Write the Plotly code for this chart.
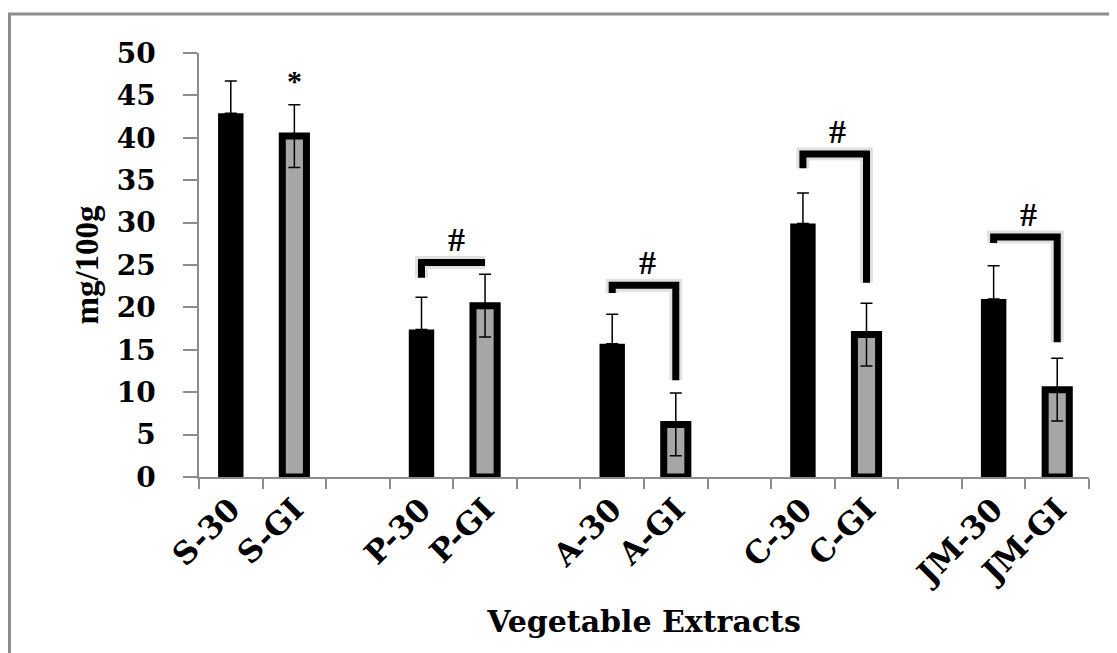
import plotly.graph_objects as go

# ---- data ----
categories = ["S-30", "S-GI", " ", "P-30", "P-GI", "  ", "A-30", "A-GI", "   ",
              "C-30", "C-GI", "    ", "JM-30", "JM-GI"]
cat30 = ["S-30", "P-30", "A-30", "C-30", "JM-30"]
val30 = [42.9, 17.4, 15.7, 29.9, 21.0]
err30 = [3.8, 3.8, 3.5, 3.6, 3.9]
catGI = ["S-GI", "P-GI", "A-GI", "C-GI", "JM-GI"]
valGI = [40.2, 20.2, 6.2, 16.8, 10.3]
errGI = [3.7, 3.7, 3.7, 3.7, 3.7]

# significance brackets: (left category, right category, top y, left leg end, right leg end)
br_left = ["P-30", "A-30", "C-30", "JM-30"]
br_right = ["P-GI", "A-GI", "C-GI", "JM-GI"]
br_top = [25.3, 22.6, 38.1, 28.3]
br_left_end = [23.5, 21.7, 36.4, 27.6]
br_right_end = [25.3, 11.4, 22.9, 15.9]
star_cat = "S-GI"
star_y = 46.8

SERIF = "DejaVu Serif"
TNR = "Liberation Serif"

fig = go.Figure()
fig.add_trace(go.Bar(
    x=cat30, y=val30, width=0.40,
    marker=dict(color="black", line=dict(color="black", width=0)),
    error_y=dict(type="data", array=err30, arrayminus=[0]*len(err30), symmetric=False,
                 color="black", thickness=1.5, width=6),
    showlegend=False,
))
fig.add_trace(go.Bar(
    x=catGI, y=valGI, width=0.38,
    marker=dict(color="#a6a6a6", line=dict(color="black", width=7)),
    error_y=dict(type="data", array=errGI, color="black", thickness=1.5, width=6),
    showlegend=False,
))

idx = {c: i for i, c in enumerate(categories)}
shapes = []
annotations = []
for l, r, t, le, re in zip(br_left, br_right, br_top, br_left_end, br_right_end):
    xl, xr = idx[l], idx[r]
    path = f"M {xl},{le} L {xl},{t} L {xr},{t} L {xr},{re}"
    # soft shadow
    shapes.append(dict(type="path", path=path, xref="x", yref="y",
                       line=dict(color="rgba(0,0,0,0.12)", width=13)))
    shapes.append(dict(type="path", path=path, xref="x", yref="y",
                       line=dict(color="black", width=7)))
    annotations.append(dict(x=(xl + xr) / 2 + 0.05, y=t, xref="x", yref="y", text="#",
                            showarrow=False, yanchor="bottom", yshift=2,
                            font=dict(family=TNR, size=34, color="black", weight="bold")))
annotations.append(dict(x=idx[star_cat], y=star_y, xref="x", yref="y", text="*",
                        showarrow=False, yanchor="middle",
                        font=dict(family=TNR, size=30, color="black", weight="bold")))

# outer border (page has an 8px body margin, figure starts at 8,8)
shapes.append(dict(type="rect", xref="paper", yref="paper",
                   x0=-0.2130, x1=1.05, y0=-0.45, y1=1.092,
                   line=dict(color="#8c8c8c", width=3), layer="below"))

fig.update_layout(
    width=1109, height=645,
    margin=dict(l=191, r=28, t=45, b=176, autoexpand=False),
    paper_bgcolor="white", plot_bgcolor="white",
    barmode="overlay",
    shapes=shapes, annotations=annotations,
    xaxis=dict(
        type="category", categoryorder="array", categoryarray=categories,
        range=[-0.5, len(categories) - 0.5], automargin=False,
        tickson="boundaries", ticks="outside", ticklen=10, tickcolor="#8c8c8c", tickwidth=1.5,
        showline=True, linecolor="#8c8c8c", linewidth=1.5,
        tickangle=-45,
        tickfont=dict(family=SERIF, size=31, color="black", weight="bold"),
        title=dict(text="Vegetable Extracts", standoff=19,
                   font=dict(family=SERIF, size=30, color="black", weight="bold")),
        showgrid=False, zeroline=False,
    ),
    yaxis=dict(
        range=[0, 50], dtick=5, tick0=0, automargin=False,
        ticks="outside", ticklen=14, tickcolor="#8c8c8c", tickwidth=1.5,
        showline=True, linecolor="#8c8c8c", linewidth=1.5,
        ticklabelstandoff=22,
        tickfont=dict(family=SERIF, size=28, color="black", weight="bold"),
        title=dict(text="mg/100g", standoff=8,
                   font=dict(family=TNR, size=33, color="black", weight="bold")),
        showgrid=False, zeroline=False,
    ),
)

fig.write_html("out.html")
